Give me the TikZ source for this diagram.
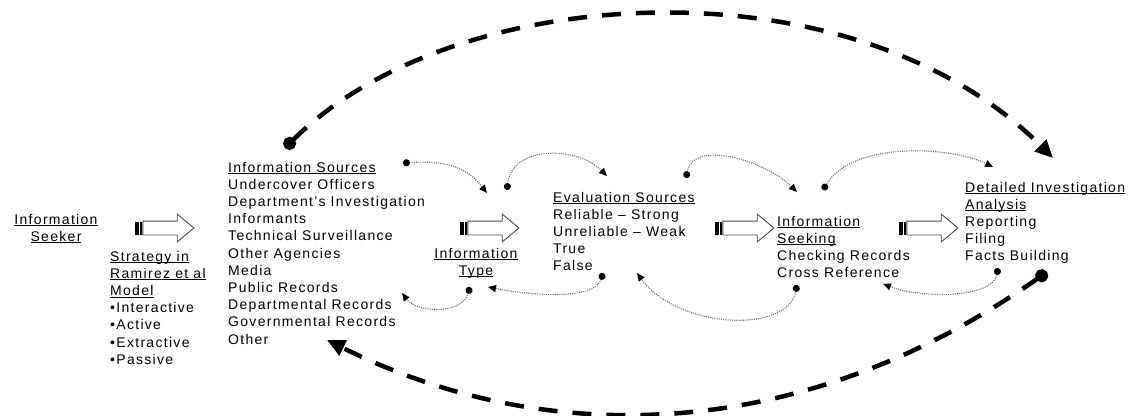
\documentclass[tikz,border=0pt]{standalone}
\usepackage{fontspec}
\setmainfont{Liberation Sans}[LetterSpace=9.3]
\usepackage{tikz}
\usetikzlibrary{arrows.meta}
\usetikzlibrary{positioning}
\usetikzlibrary{shapes.arrows}

\newcommand{\uln}[1]{\setbox0=\hbox{#1}\rlap{\rule[-2pt]{\wd0}{1pt}}\box0}

\begin{document}
\begin{tikzpicture}[x=1pt, y=-1pt, font={\fontsize{14}{17.2}\selectfont},
	box/.style={inner sep=0pt, align=left, anchor=north west},
	headc/.style={inner sep=0pt, align=center, anchor=north},
	tail/.style={rectangle, fill=black, inner sep=0pt, minimum width=7pt, minimum height=13pt, anchor=west,
		path picture={\draw[white, line width=1pt] ([xshift=1pt]path picture bounding box.north) -- ([xshift=1pt]path picture bounding box.south);}},
	flow/.style={single arrow, draw=black!70, fill=white, line width=0.9pt, inner xsep=0pt, inner ysep=6.5pt,
		minimum height=51pt, single arrow head extend=7pt, single arrow tip angle=80},
	dotlink/.style={draw=black!60, line width=1.1pt, dash pattern=on 1pt off 1.2pt,
		{Circle[length=7pt, color=black]}-{Triangle[length=8pt, width=7pt, color=black]}},
	feedback/.style={draw=black, line width=4.5pt, dash pattern=on 19pt off 15pt,
		{Circle[length=13pt]}-{Triangle[length=18pt, width=16pt]}},
]
\useasboundingbox (0,0) rectangle (1139,415);

% text blocks
\node [headc] (seeker) at (56,213.8) {\uln{Information}\\\uln{Seeker}};
\node [box] (strat) at (110,250.8) {\uln{Strategy in}\\\uln{Ramirez et al}\\\uln{Model}\\
	•Interactive\\•Active\\•Extractive\\•Passive};
\node [box] (src) at (228,161.8) {\uln{Information Sources}\\Undercover Officers\\Department's Investigation\\
	Informants\\Technical Surveillance\\Other Agencies\\Media\\Public Records\\
	Departmental Records\\Governmental Records\\Other};
\node [headc] (type) at (476,247.8) {\uln{Information}\\\uln{Type}};
\node [box] (eval) at (553,191.8) {\uln{Evaluation Sources}\\Reliable -- Strong\\Unreliable -- Weak\\True\\False};
\node [box] (seek) at (777,215.8) {\uln{Information}\\\uln{Seeking}\\Checking Records\\Cross Reference};
\node [box] (detail) at (965,181.8) {\uln{Detailed Investigation}\\\uln{Analysis}\\Reporting\\Filing\\Facts Building};

% block arrows
\foreach \x [count=\i] in {135,460,715,899} {
	\node [tail] (tail\i) at (\x,228) {};
	\node [flow, right=0pt of tail\i] (flow\i) {};
}

% ends of the dotted links
\coordinate (srcDot) at (403,163);
\coordinate (typeTip) at (487,193);
\coordinate (typeDot) at (507,190);
\coordinate (evalTip) at (607,176);
\coordinate (evalDot) at (686,178);
\coordinate (seekTip) at (797,192);
\coordinate (seekDot) at (823,190);
\coordinate (detTip) at (993,167);
\coordinate (detDot) at (998,268);
\coordinate (seekBackTip) at (883,284);
\coordinate (seekBackDot) at (797,285);
\coordinate (evalBackTip) at (637,273);
\coordinate (evalBackDot) at (603,273);
\coordinate (typeBackTip) at (488,287);
\coordinate (typeBackDot) at (470,287);
\coordinate (srcBackTip) at (402,293);
% ends of the dashed loops
\coordinate (topDot) at (285,148);
\coordinate (topTip) at (1053,158);
\coordinate (botDot) at (1047,272);
\coordinate (botTip) at (327,340);
%
\draw [dotlink] (srcDot) .. controls +(45,-3) and +(-20,-25) .. (typeTip);
\draw [dotlink] (typeDot) .. controls +(5,-45) and +(-30,-30) .. (evalTip);
\draw [dotlink] (evalDot) .. controls +(8,-40) and +(-30,-30) .. (seekTip);
\draw [dotlink] (seekDot) .. controls +(30,-50) and +(-40,-20) .. (detTip);
\draw [dotlink] (detDot) .. controls +(-5,30) and +(40,15) .. (seekBackTip);
\draw [dotlink] (seekBackDot) .. controls +(-10,50) and +(40,55) .. (evalBackTip);
\draw [dotlink] (evalBackDot) .. controls +(-8,28) and +(40,8) .. (typeBackTip);
\draw [dotlink] (typeBackDot) .. controls +(-8,28) and +(15,20) .. (srcBackTip);
\draw [feedback] (topDot) .. controls +(168,-168) and +(-200,-200) .. (topTip);
\draw [feedback] (botDot) .. controls +(-250,175) and +(215,107) .. (botTip);
\end{tikzpicture}
\end{document}
